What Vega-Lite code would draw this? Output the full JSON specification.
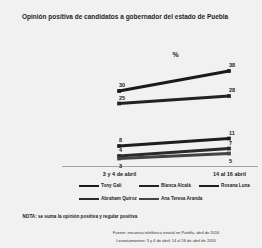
{
  "$schema": "https://vega.github.io/schema/vega-lite/v6.json",
  "autosize": "none",
  "width": 196,
  "height": 106,
  "padding": {"left": 62, "top": 60, "right": 4, "bottom": 82},
  "background": "#f1f1f1",
  "config": {"view": {"stroke": null}, "font": "Liberation Sans"},
  "title": {"text": "Opinión positiva de candidatos a gobernador del estado de Puebla", "anchor": "start", "offset": 30, "fontSize": 6.5, "fontWeight": "bold", "color": "#1e1e1e"},
  "data": {"values": [
    {"candidato": "Tony Gali", "fecha": "3 y 4 de abril", "valor": 30},
    {"candidato": "Tony Gali", "fecha": "14 al 16 abril", "valor": 38},
    {"candidato": "Blanca Alcalá", "fecha": "3 y 4 de abril", "valor": 25},
    {"candidato": "Blanca Alcalá", "fecha": "14 al 16 abril", "valor": 28},
    {"candidato": "Roxana Luna", "fecha": "3 y 4 de abril", "valor": 8},
    {"candidato": "Roxana Luna", "fecha": "14 al 16 abril", "valor": 11},
    {"candidato": "Abraham Quiroz", "fecha": "3 y 4 de abril", "valor": 4},
    {"candidato": "Abraham Quiroz", "fecha": "14 al 16 abril", "valor": 7},
    {"candidato": "Ana Teresa Aranda", "fecha": "3 y 4 de abril", "valor": 3},
    {"candidato": "Ana Teresa Aranda", "fecha": "14 al 16 abril", "valor": 5}
  ]},
  "encoding": {
    "x": {"field": "fecha", "type": "nominal", "sort": ["3 y 4 de abril", "14 al 16 abril"],
      "scale": {"type": "point", "padding": 0.391, "align": 0.663},
      "axis": {"title": "NOTA: se suma la opinión positiva y regular positiva", "titleX": -40, "titleY": 50, "titleAnchor": "start", "titleAlign": "left", "titleBaseline": "middle", "titleFontSize": 4.6, "titleFontWeight": "bold", "titleColor": "#222",
        "labelAngle": 0, "labelFontSize": 5.5, "labelFontWeight": "bold", "labelColor": "#222", "labelPadding": 5, "ticks": false, "grid": false, "domainDash": [1, 1], "domainColor": "#555", "domainWidth": 1}},
    "y": {"field": "valor", "type": "quantitative", "scale": {"domain": [0, 42.4], "nice": false},
      "axis": {"title": "%", "titleAngle": 0, "titleX": 113, "titleY": -3, "titleFontSize": 7, "titleFontWeight": "bold", "titleColor": "#222", "labels": false, "ticks": false, "domain": false, "grid": false}}
  },
  "layer": [
    {"mark": {"type": "line", "strokeWidth": 3},
     "encoding": {"color": {"field": "candidato", "type": "nominal",
        "sort": ["Tony Gali", "Blanca Alcalá", "Roxana Luna", "Abraham Quiroz", "Ana Teresa Aranda"],
        "scale": {"range": ["#1a1a1a", "#222222", "#1e1e1e", "#2a2a2a", "#444444"]},
        "legend": {"orient": "none", "legendX": 21, "legendY": 120, "columns": 3, "direction": "horizontal", "gridAlign": "all",
          "symbolType": "M-2,0H2", "symbolSize": 100, "symbolStrokeWidth": 2, "symbolFillColor": "transparent", "labelFontSize": 4.6, "labelFontWeight": "bold", "labelColor": "#222", "labelOffset": 6, "columnPadding": -16, "rowPadding": 3,
          "title": ["Fuente: encuesta telefónica estatal en Puebla, abril de 2016", "Levantamientos: 3 y 4 de abril; 14 al 16 de abril de 2016"],
          "titleOrient": "bottom", "titleAnchor": "middle", "titleFontSize": 4, "titleFontWeight": "normal", "titleColor": "#333", "titlePadding": 28, "titleLineHeight": 8, "titleLimit": 0}}}},
    {"mark": {"type": "square", "size": 14, "filled": true, "opacity": 1},
     "encoding": {"color": {"field": "candidato", "type": "nominal", "sort": ["Tony Gali", "Blanca Alcalá", "Roxana Luna", "Abraham Quiroz", "Ana Teresa Aranda"]}}},
    {"transform": [{"filter": "datum.candidato != 'Ana Teresa Aranda'"}],
     "mark": {"type": "text", "align": "left", "dx": 0, "dy": -6, "fontSize": 5.5, "fontWeight": "bold", "color": "#222"},
     "encoding": {"text": {"field": "valor", "type": "quantitative"}}},
    {"transform": [{"filter": "datum.candidato == 'Ana Teresa Aranda'"}],
     "mark": {"type": "text", "align": "left", "dx": 0, "dy": 7, "fontSize": 5.5, "fontWeight": "bold", "color": "#222"},
     "encoding": {"text": {"field": "valor", "type": "quantitative"}}}
  ]
}
